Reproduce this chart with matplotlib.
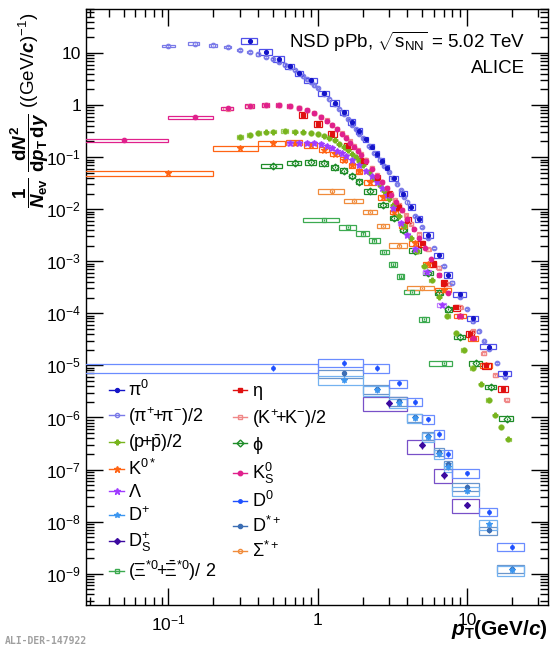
import numpy as np
import matplotlib
matplotlib.use('Agg')
import matplotlib.pyplot as plt
from matplotlib.patches import Rectangle
from matplotlib.lines import Line2D
from matplotlib.ticker import LogLocator, FuncFormatter, NullFormatter

plt.rcParams['font.family'] = ['Liberation Sans', 'DejaVu Sans']
plt.rcParams['mathtext.fontset'] = 'custom'
plt.rcParams['mathtext.rm'] = 'Liberation Sans'
plt.rcParams['mathtext.it'] = 'Liberation Sans:style=italic:weight=bold'
plt.rcParams['mathtext.bf'] = 'Liberation Sans:weight=bold'
plt.rcParams['mathtext.sf'] = 'Liberation Sans'

# ---------------- data ----------------
pi0_pt = [0.35, 0.45, 0.55, 0.65, 0.75, 0.9, 1.1, 1.3, 1.5, 1.7, 1.9, 2.1, 2.3, 2.5, 2.7, 2.9,
          3.25, 3.75, 4.25, 4.75, 5.5, 6.5, 7.5, 9, 11, 14, 18]
pi0_y = [17, 10.5, 7.7, 5.6, 4.1, 3.0, 1.7, 1.1, 0.72, 0.48, 0.32, 0.22, 0.16, 0.115, 0.085, 0.063,
         0.039, 0.02, 0.011, 6.5e-3, 3.2e-3, 1.3e-3, 5.5e-4, 2.3e-4, 8e-5, 2.3e-5, 7e-6]
pi0_edges = [0.3, 0.4, 0.5, 0.6, 0.7, 0.8, 1.0, 1.2, 1.4, 1.6, 1.8, 2.0, 2.2, 2.4, 2.6, 2.8, 3.0,
             3.5, 4.0, 4.5, 5.0, 6.0, 7.0, 8.0, 10, 12, 16, 20]

pipm_pt = [0.1, 0.15, 0.2, 0.25, 0.3, 0.35, 0.4, 0.45, 0.5, 0.55, 0.6, 0.65, 0.7, 0.75, 0.8, 0.85,
           0.9, 0.95, 1.0, 1.1, 1.2, 1.3, 1.4, 1.5, 1.6, 1.7, 1.8, 1.9, 2.0, 2.2, 2.4, 2.6, 2.8,
           3.0, 3.2, 3.4, 3.6, 3.8, 4.0, 4.5, 5.0, 5.5, 6.0, 7, 8, 9, 10, 11, 12, 13, 14, 16, 18]
pipm_y = [13.8, 15.2, 14.0, 12.9, 11.6, 10.5, 9.4, 8.5, 7.6, 6.8, 6.0, 5.3, 4.65, 4.05, 3.55, 3.1,
          2.72, 2.38, 2.1, 1.62, 1.28, 1.03, 0.83, 0.66, 0.53, 0.42, 0.34, 0.28, 0.23, 0.165, 0.12,
          0.09, 0.068, 0.052, 0.04, 0.03, 0.023, 0.0175, 0.0135, 0.0075, 0.0045, 0.0028, 0.0018,
          8e-4, 3.9e-4, 2.1e-4, 1.2e-4, 7e-5, 4.5e-5, 3e-5, 2.1e-5, 1.1e-5, 6e-6]

eta_pt = [0.8, 1.0, 1.25, 1.6, 2.0, 2.5, 3.0, 3.5, 4.0, 5.0, 6.0, 7.0, 8.5, 10.5, 13.5, 17.5]
eta_y = [0.64, 0.43, 0.28, 0.165, 0.085, 0.04, 0.02, 0.011, 6.3e-3, 2.2e-3, 9e-4, 3.8e-4, 1.3e-4,
         4e-5, 1.0e-5, 3.5e-6]

kpm_pt = [0.25, 0.35, 0.45, 0.55, 0.65, 0.75, 0.85, 0.95, 1.05, 1.15, 1.25, 1.35, 1.45, 1.55, 1.65,
          1.75, 1.85, 1.95, 2.1, 2.3, 2.5, 2.7, 2.9, 3.1, 3.3, 3.5, 3.7, 3.9, 4.25, 4.75, 5.5, 6.5,
          7.5, 9, 11, 13, 15.5, 18.5]
kpm_y = [0.85, 0.95, 1.0, 1.0, 0.95, 0.88, 0.79, 0.7, 0.6, 0.51, 0.42, 0.35, 0.29, 0.24, 0.2,
         0.165, 0.14, 0.115, 0.088, 0.063, 0.046, 0.034, 0.026, 0.02, 0.015, 0.012, 0.0095, 0.0076,
         5.3e-3, 3.3e-3, 1.7e-3, 7.5e-4, 3.6e-4, 1.3e-4, 4.5e-5, 1.7e-5, 6.5e-6, 2.2e-6]

prot_pt = [0.3, 0.35, 0.4, 0.45, 0.5, 0.6, 0.7, 0.8, 0.9, 1.0, 1.1, 1.2, 1.3, 1.4, 1.5, 1.6, 1.7,
           1.8, 1.9, 2.0, 2.2, 2.4, 2.6, 2.8, 3.0, 3.2, 3.5, 3.8, 4.2, 4.6, 5.2, 5.8, 6.5, 7.4, 8.5,
           9.5, 11, 12.5, 14, 15.5, 17, 19]
prot_y = [0.245, 0.27, 0.29, 0.3, 0.31, 0.315, 0.31, 0.3, 0.29, 0.28, 0.26, 0.235, 0.21, 0.18,
          0.16, 0.137, 0.117, 0.1, 0.085, 0.072, 0.052, 0.039, 0.029, 0.022, 0.016, 0.012, 0.0075,
          0.0048, 0.0028, 0.0016, 8e-4, 4.3e-4, 2.1e-4, 9e-5, 4.2e-5, 2.0e-5, 9e-6, 4.3e-6, 2.2e-6,
          1.1e-6, 6.5e-7, 3.8e-7]

phi_pt = [0.5, 0.7, 0.9, 1.1, 1.3, 1.5, 1.7, 1.9, 2.25, 2.75, 3.25, 3.75, 4.5, 5.5, 6.5, 7.5, 9,
          11.5, 14.5, 18.5]
phi_y = [0.068, 0.078, 0.08, 0.076, 0.064, 0.055, 0.044, 0.034, 0.022, 0.012, 6.8e-3, 4e-3, 1.6e-3,
         6e-4, 2.5e-4, 1.2e-4, 3.5e-5, 1.1e-5, 3.9e-6, 9.5e-7]
phi_edges = [0.4, 0.6, 0.8, 1.0, 1.2, 1.4, 1.6, 1.8, 2.0, 2.5, 3.0, 3.5, 4.0, 5.0, 6.0, 7.0, 8.0,
             10, 13, 16, 21]

k0star_pt = [0.1, 0.3, 0.5, 0.7, 0.9, 1.1, 1.3, 1.5, 1.7, 1.9, 2.25, 2.75, 3.25, 3.75, 4.5, 5.5,
             7, 9, 11, 13.5]
k0star_y = [0.049, 0.148, 0.185, 0.19, 0.17, 0.14, 0.115, 0.09, 0.07, 0.053, 0.033, 0.017, 0.0088,
            0.0048, 2.2e-3, 8.8e-4, 2.8e-4, 9e-5, 3.3e-5, 1e-5]
k0star_edges = [0.0, 0.2, 0.4, 0.6, 0.8, 1.0, 1.2, 1.4, 1.6, 1.8, 2.0, 2.5, 3.0, 3.5, 4.0, 5.0,
                6.0, 8.0, 10, 12, 15]

k0s_pt = [0.05, 0.15, 0.25, 0.35, 0.45, 0.55, 0.65, 0.75, 0.85, 0.95, 1.05, 1.15, 1.25, 1.35, 1.45,
          1.55, 1.65, 1.75, 1.85, 1.95, 2.1, 2.3, 2.5, 2.7, 2.9, 3.1, 3.35, 3.65, 4.0, 4.4, 4.8,
          5.25, 5.75, 6.5, 7.5, 9, 11]
k0s_y = [0.21, 0.58, 0.86, 0.96, 1.02, 1.02, 0.97, 0.89, 0.79, 0.69, 0.6, 0.5, 0.41, 0.34, 0.28,
         0.23, 0.19, 0.16, 0.133, 0.11, 0.085, 0.06, 0.044, 0.033, 0.025, 0.019, 0.014, 0.0098,
         6.5e-3, 4.2e-3, 2.8e-3, 1.8e-3, 1.1e-3, 5.5e-4, 2.5e-4, 9e-5, 3.3e-5]
k0s_edges = [0.0, 0.1, 0.2, 0.3, 0.4, 0.5, 0.6, 0.7, 0.8, 0.9, 1.0, 1.1, 1.2, 1.3, 1.4, 1.5, 1.6,
             1.7, 1.8, 1.9, 2.0, 2.2, 2.4, 2.6, 2.8, 3.0, 3.2, 3.5, 3.8, 4.2, 4.6, 5.0, 5.5, 6.0,
             7.0, 8.0, 10, 12]

lam_pt = [0.65, 0.75, 0.85, 0.95, 1.05, 1.15, 1.25, 1.35, 1.45, 1.55, 1.7, 1.9, 2.1, 2.3, 2.5, 2.7,
          2.9, 3.2, 3.6, 4.0, 4.5, 5.4, 6.8]
lam_y = [0.185, 0.19, 0.19, 0.188, 0.18, 0.165, 0.148, 0.132, 0.118, 0.105, 0.09, 0.07, 0.055,
         0.043, 0.034, 0.026, 0.019, 0.0105, 5.5e-3, 3.2e-3, 1.7e-3, 6.3e-4, 1.45e-4]

d0_pt = [0.5, 1.5, 2.5, 3.5, 4.5, 5.5, 6.5, 7.5, 10, 14, 20]
d0_y = [8.9e-6, 1.12e-5, 8.9e-6, 4.5e-6, 2e-6, 9.3e-7, 4.8e-7, 2e-7, 8.5e-8, 1.55e-8, 3.3e-9]
d_edges = [0, 1, 2, 3, 4, 5, 6, 7, 8, 12, 16, 24]

dplus_pt = [1.5, 2.5, 3.5, 4.5, 5.5, 6.5, 7.5, 10, 14, 20]
dplus_y = [5.2e-6, 3.3e-6, 1.9e-6, 9.7e-7, 4.2e-7, 2.0e-7, 1.1e-7, 3.9e-8, 8.8e-9, 1.15e-9]
dstar_pt = [1.5, 2.5, 3.5, 4.5, 5.5, 6.5, 7.5, 10, 14, 20]
dstar_y = [7e-6, 3.5e-6, 2.05e-6, 1.0e-6, 4.5e-7, 2.2e-7, 1.25e-7, 4.7e-8, 6.8e-9, 1.25e-9]
dx_edges = [1, 2, 3, 4, 5, 6, 7, 8, 12, 16, 24]

ds_pt = [3, 5, 7, 10]
ds_y = [1.9e-6, 2.9e-7, 7.9e-8, 2.1e-8]
ds_edges = [2, 4, 6, 8, 12]

sigma_pt = [1.25, 1.75, 2.25, 2.75, 3.5, 5.0]
sigma_y = [0.022, 0.0145, 8.8e-3, 4.8e-3, 2e-3, 3.1e-4]
sigma_edges = [1.0, 1.5, 2.0, 2.5, 3.0, 4.0, 6.0]

xi_pt = [1.1, 1.6, 2.0, 2.4, 2.8, 3.2, 3.6, 4.3, 5.2, 7.0]
xi_y = [6.2e-3, 4.5e-3, 3.4e-3, 2.5e-3, 1.5e-3, 8.7e-4, 5.1e-4, 2.6e-4, 7.7e-5, 1.1e-5]
xi_edges = [0.8, 1.4, 1.8, 2.2, 2.6, 3.0, 3.4, 3.8, 4.8, 5.6, 8.0]

labels_left = [r'$\mathrm{\pi^{0}}$', r'$\mathrm{(\pi^{+}\!\!+\!\!\pi^{-})/2}$',
               r'$\mathrm{(p\!\!+\!\!\bar{p})/2}$', r'$\mathrm{K^{0*}}$', r'$\mathrm{\Lambda}$',
               r'$\mathrm{D^{+}}$', r'$\mathrm{D_{S}^{+}}$',
               r'$\mathrm{(\Xi^{*0}\!\!+\!\!\bar{\Xi}^{*0})/\ 2}$']
labels_right = [r'$\mathrm{\eta}$', r'$\mathrm{(K^{+}\!\!+\!\!K^{-})/2}$', r'$\mathrm{\phi}$',
                r'$\mathrm{K_{S}^{0}}$', r'$\mathrm{D^{0}}$', r'$\mathrm{D^{*+}}$',
                r'$\mathrm{\Sigma^{*+}}$']

# ---------------- figure ----------------
fig = plt.figure(figsize=(5.59, 6.5), dpi=100)
ax = fig.add_axes([86 / 559, 45 / 650, 462 / 559, 596 / 650])
ax.set_xscale('log')
ax.set_yscale('log')
ax.set_xlim(0.028, 35)
ax.set_ylim(2.5e-10, 70)


def auto_edges(pt):
    lp = np.log10(np.asarray(pt, float))
    mids = (lp[1:] + lp[:-1]) / 2
    first = lp[0] - (mids[0] - lp[0])
    last = lp[-1] + (lp[-1] - mids[-1])
    return 10 ** np.concatenate([[first], mids, [last]])


def draw(pt, y, color, boxcolor, marker, ms, open_=False, edges=None, shrink=1.0,
         nfull=0, syst=0.08, stat=0.03, z=3):
    pt = np.asarray(pt, float)
    y = np.asarray(y, float)
    e = np.asarray(edges, float) if edges is not None else auto_edges(pt)
    for i in range(len(pt)):
        lo, hi = e[i], e[i + 1]
        f = 1.0 if i < nfull else shrink
        if f < 1.0:
            lc = np.log10(pt[i])
            lo = 10 ** (lc - f * (lc - np.log10(lo)))
            hi = 10 ** (lc + f * (np.log10(hi) - lc))
        lo = max(lo, 1e-3)
        r = Rectangle((lo, y[i] * (1 - syst)), hi - lo, y[i] * 2 * syst, fill=False,
                      edgecolor=boxcolor, lw=0.9, zorder=z)
        ax.add_patch(r)
    ax.errorbar(pt, y, yerr=y * stat, fmt=marker, color=color, ms=ms,
                mfc='none' if open_ else color, mec=color, mew=0.9, elinewidth=0.9,
                capsize=0, zorder=z + 0.5)


C = dict(pi0='#1414c8', pipm='#7a7ae8', eta='#e01010', kpm='#f08888', prot='#78b41e',
         phi='#1e8c28', k0star='#ff6414', k0s='#e0208c', lam='#a03cff', d0='#1e50ff',
         dplus='#3c96f0', dstar='#3c6eb4', ds='#3c0aa0', sigma='#f08c3c', xi='#3caa50')

draw(xi_pt, xi_y, C['xi'], C['xi'], 's', 3, open_=True, edges=xi_edges, syst=0.1, stat=0.05)
draw(sigma_pt, sigma_y, C['sigma'], C['sigma'], 'o', 3, open_=True, edges=sigma_edges,
     syst=0.1, stat=0.05)
draw(phi_pt, phi_y, C['phi'], C['phi'], 'D', 3.5, open_=True, edges=phi_edges, shrink=0.8,
     syst=0.1, stat=0.05)
draw(k0star_pt, k0star_y, C['k0star'], C['k0star'], '*', 4.5, edges=k0star_edges, shrink=0.85,
     nfull=3, syst=0.1, stat=0.05)
draw(prot_pt, prot_y, C['prot'], '#9ccc5a', 'P', 3.5, shrink=0.6, syst=0.08, stat=0.05)
draw(lam_pt, lam_y, C['lam'], '#c080ff', '*', 4.5, shrink=0.6, syst=0.09, stat=0.05)
draw(kpm_pt, kpm_y, C['kpm'], C['kpm'], 's', 3, open_=True, shrink=0.45, syst=0.07, stat=0.03)
draw(eta_pt, eta_y, C['eta'], C['eta'], 's', 3, shrink=0.55, syst=0.13, stat=0.08)
draw(k0s_pt, k0s_y, C['k0s'], C['k0s'], 'o', 3.2, edges=k0s_edges, shrink=0.45, nfull=2,
     syst=0.08, stat=0.03)
draw(pipm_pt, pipm_y, C['pipm'], C['pipm'], 'o', 3.2, open_=True, shrink=0.5, syst=0.05,
     stat=0.02)
draw(pi0_pt, pi0_y, C['pi0'], '#5050ea', 'o', 2.8, edges=pi0_edges, shrink=0.9, syst=0.12,
     stat=0.05)
draw(ds_pt, ds_y, C['ds'], '#7850c8', 'D', 3, edges=ds_edges, syst=0.3, stat=0.15)
draw(dstar_pt, dstar_y, C['dstar'], '#6a96cc', 'o', 3, edges=dx_edges, syst=0.18, stat=0.12)
draw(dplus_pt, dplus_y, C['dplus'], '#74b2f0', '*', 4, edges=dx_edges, syst=0.2, stat=0.12)
draw(d0_pt, d0_y, C['d0'], '#6a8cff', 'o', 2.5, edges=d_edges, syst=0.18, stat=0.12)

# ---------------- axes styling ----------------
for s in ax.spines.values():
    s.set_linewidth(1.0)
ax.xaxis.set_major_locator(LogLocator(base=10, numticks=10))
ax.xaxis.set_minor_locator(LogLocator(base=10, subs=np.arange(2, 10), numticks=20))
ax.yaxis.set_major_locator(LogLocator(base=10, numticks=20))
ax.yaxis.set_minor_locator(LogLocator(base=10, subs=np.arange(2, 10), numticks=30))


def fmt(v, _):
    e = int(round(np.log10(v)))
    if e == 0:
        return '1'
    if e == 1:
        return '10'
    return r'$\mathrm{10^{%d}}$' % e


ax.xaxis.set_major_formatter(FuncFormatter(fmt))
ax.yaxis.set_major_formatter(FuncFormatter(fmt))
ax.xaxis.set_minor_formatter(NullFormatter())
ax.yaxis.set_minor_formatter(NullFormatter())
ax.tick_params(which='both', direction='in', top=True, right=True, labelsize=12.5, width=1)
ax.tick_params(which='major', length=12)
ax.tick_params(which='minor', length=6)
ax.tick_params(axis='x', pad=6)

# ---------------- text ----------------
ax.text(0.95, 0.945, r'NSD pPb, $\sqrt{\mathrm{s}_{\mathrm{NN}}}$ = 5.02 TeV',
        transform=ax.transAxes, ha='right', va='center', fontsize=13.5)
ax.text(0.95, 0.901, 'ALICE', transform=ax.transAxes, ha='right', va='center', fontsize=13.5)

fig.text(0.98, 0.031, r'$p_{\mathbf{T}}\mathbf{(GeV/}c\mathbf{)}$', ha='right', va='center',
         fontsize=15)
fig.text(30 / 559, 1 - 110 / 650,
         r'$\dfrac{\mathbf{1}}{N_{\mathbf{ev}}}\ \dfrac{\mathbf{d}N^{\mathbf{2}}}'
         r'{\mathbf{d}p_{\mathbf{T}}\,\mathbf{d}y}\ \mathrm{((GeV/}c\mathrm{)^{-1})}$',
         rotation=90, ha='center', va='center', fontsize=13.5)
fig.text(5 / 559, 1 - 641 / 650, 'ALI-DER-147922', fontsize=7, color='#a0a0a0',
         family='DejaVu Sans Mono', fontweight='bold', ha='left', va='center')

# ---------------- legend ----------------
lstyle_left = [('pi0', 'o', False, 2.8), ('pipm', 'o', True, 3), ('prot', 'P', False, 3.5),
               ('k0star', '*', False, 4.5), ('lam', '*', False, 4.5), ('dplus', '*', False, 4),
               ('ds', 'D', False, 3), ('xi', 's', True, 3)]
lstyle_right = [('eta', 's', False, 3), ('kpm', 's', True, 3), ('phi', 'D', True, 3.5),
                ('k0s', 'o', False, 3.2), ('d0', 'o', False, 2.5), ('dstar', 'o', False, 3),
                ('sigma', 'o', True, 3)]
handles = []
labels = []
for (k, m, o, ms), lab in zip(lstyle_left + lstyle_right, labels_left + labels_right):
    handles.append(Line2D([], [], color=C[k], marker=m, ms=ms, mfc='none' if o else C[k],
                          mec=C[k], lw=1.0))
    labels.append(lab)
leg = ax.legend(handles, labels, ncol=2, loc='upper left', bbox_to_anchor=(0.035, 0.39),
                frameon=False, fontsize=13, handlelength=0.8, handletextpad=0.25,
                labelspacing=0.28, columnspacing=0.9, borderaxespad=0)

fig.savefig('out.png', dpi=100)
